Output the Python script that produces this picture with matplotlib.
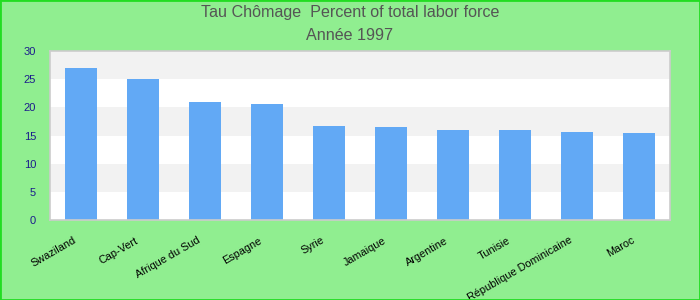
import numpy as np
import matplotlib
matplotlib.use("Agg")
from matplotlib import pyplot as plt
from matplotlib.patches import Rectangle
from matplotlib.transforms import ScaledTranslation

plt.rcParams['font.family'] = ['Liberation Sans', 'DejaVu Sans']

pays = ['Swaziland', 'Cap-Vert', 'Afrique du Sud', 'Espagne', 'Syrie',
        'Jamaique', 'Argentine', 'Tunisie', 'République Dominicaine', 'Maroc']
chomage = [26.9, 25.1, 21.0, 20.6, 16.7, 16.5, 16.0, 16.0, 15.7, 15.5]
yticks = [0, 5, 10, 15, 20, 25, 30]

fig = plt.figure(figsize=(7, 3), dpi=100, facecolor='#90EE90')
ax = fig.add_axes([50/700, 80/300, 620/700, 169/300])
ax.set_facecolor('white')

# bandes alternées
for i in range(0, 30, 5):
    if (i // 5) % 2 == 1:
        ax.axhspan(i, i + 5, color='#f2f2f2', zorder=0, lw=0)

x = np.arange(len(pays))
ax.bar(x, chomage, width=0.52, color='#62a9f5', zorder=2)

ax.set_xlim(-0.5, len(pays) - 0.5)
ax.set_ylim(0, 30)
ax.set_yticks(yticks)
ax.set_yticklabels([str(v) for v in yticks], color='#1c1c8c', fontsize=8)
ax.tick_params(axis='y', length=0, pad=10)
ax.tick_params(axis='x', length=0, pad=11)
ax.set_xticks(x)
ax.set_xticklabels(pays, rotation=30, ha='right', va='top',
                   rotation_mode='anchor', fontsize=7.8)
decal = ScaledTranslation(-8/100, 0, fig.dpi_scale_trans)
for lab in ax.get_xticklabels():
    lab.set_transform(lab.get_transform() + decal)

for s in ax.spines.values():
    s.set_color('#cccccc')
    s.set_linewidth(1.2)

fig.text(0.5, 1 - 13/300, 'Tau Chômage  Percent of total labor force',
         ha='center', va='center', fontsize=11.6, color='#555555')
fig.text(0.5, 1 - 36/300, 'Année 1997',
         ha='center', va='center', fontsize=11.6, color='#555555')

fig.patches.append(Rectangle((0, 0), 1, 1, transform=fig.transFigure,
                             fill=False, edgecolor='#22dd22', lw=2))

fig.savefig('out.png', dpi=100, facecolor=fig.get_facecolor())
